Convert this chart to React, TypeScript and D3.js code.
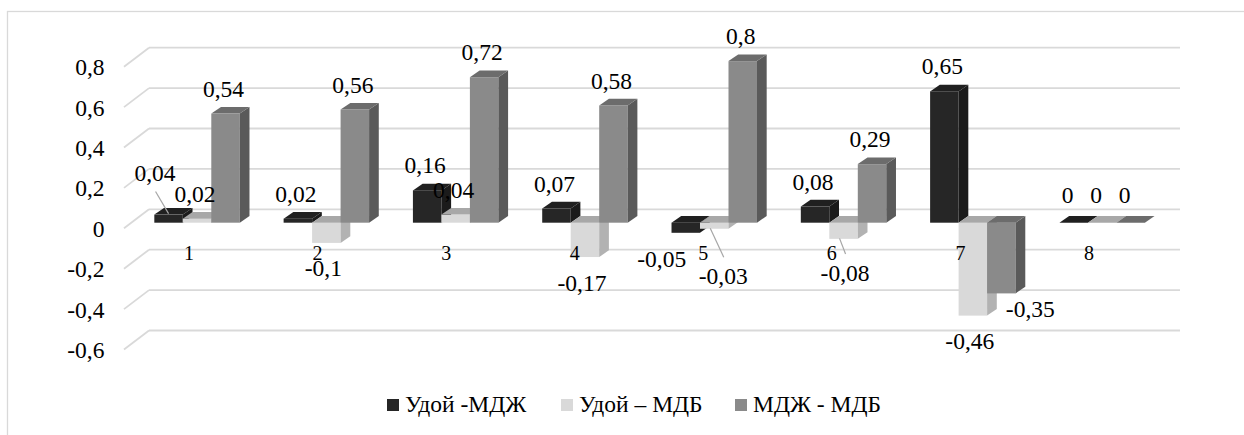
import React from 'react';
import * as d3 from 'd3';

// Categories and the three difference series
const categories = ['1', '2', '3', '4', '5', '6', '7', '8'];
const seriesNames = ['Удой -МДЖ', 'Удой – МДБ', 'МДЖ - МДБ'];
const udoyMdzh = [0.04, 0.02, 0.16, 0.07, -0.05, 0.08, 0.65, 0];
const udoyMdb = [0.02, -0.1, 0.04, -0.17, -0.03, -0.08, -0.46, 0];
const mdzhMdb = [0.54, 0.56, 0.72, 0.58, 0.8, 0.29, -0.35, 0];
const yTicks = [-0.6, -0.4, -0.2, 0, 0.2, 0.4, 0.6, 0.8];

const seriesValues = [udoyMdzh, udoyMdb, mdzhMdb];

// Shading for each series: front, side, top faces
const palette = [
  { front: '#262626', side: '#1b1b1b', top: '#202020' },
  { front: '#d9d9d9', side: '#b2b2b2', top: '#a8a8a8' },
  { front: '#8a8a8a', side: '#5a5a5a', top: '#6c6c6c' },
];

// Manually placed data labels (offsets from default placement)
const labelNudges = [
  { s: 0, i: 0, dx: -11.5, dy: -16.6, leader: true },
  { s: 1, i: 4, dx: 12, dy: 22, leader: true },
  { s: 1, i: 5, dx: 4.5, dy: 8.6, leader: true },
  { s: 0, i: 4, dx: -21, dy: 0.7, leader: false },
  { s: 2, i: 6, dx: 32, dy: -10, leader: false },
  { s: 0, i: 7, dx: -4, dy: -3, leader: false },
  { s: 1, i: 7, dx: -4, dy: -3, leader: false },
  { s: 2, i: 7, dx: -4, dy: -3, leader: false },
];

const W = 1244;
const H = 435;
const FONT = "'Liberation Serif', Tinos, 'Times New Roman', 'DejaVu Serif', serif";
const DX = 9.7; // depth offset of bar boxes
const DY = -6.7;
const WALL_SHIFT = 13.4; // back wall sits above the bars' front plane
const SIDE_DX = 25; // side-wall gridline run
const SIDE_DY = 19;

const fmt = (v: number) => String(+v.toFixed(2)).replace('.', ',');

export default function App() {
  const y = d3.scaleLinear().domain([-0.6, 0.8]).range([343.9, 61.1]);
  const x = d3
    .scaleBand<string>()
    .domain(categories)
    .range([132.4, 1166.8])
    .paddingInner(0.339)
    .paddingOuter(0.1695);
  const xs = d3
    .scaleBand<number>()
    .domain([0, 1, 2])
    .range([0, x.bandwidth()]);
  const labelX = d3.scalePoint<string>().domain(categories).range([189, 1089]);

  const wallLeft = 149;
  const wallRight = 1180;

  const bars: JSX.Element[] = [];
  const labels: JSX.Element[] = [];
  const leaders: JSX.Element[] = [];

  categories.forEach((c, i) => {
    seriesValues.forEach((vals, s) => {
      const v = vals[i];
      const xl = (x(c) as number) + (xs(s) as number);
      const w = xs.bandwidth();
      const y0 = y(0);
      const yv = y(v);
      const yT = Math.min(y0, yv);
      const yB = Math.max(y0, yv);
      const col = palette[s];
      bars.push(
        <g key={`b-${i}-${s}`}>
          {yB - yT > 0 && (
            <rect x={xl} y={yT} width={w} height={yB - yT} fill={col.front} />
          )}
          {yB - yT > 0 && (
            <polygon
              points={`${xl + w},${yT} ${xl + w + DX},${yT + DY} ${xl + w + DX},${yB + DY} ${xl + w},${yB}`}
              fill={col.side}
            />
          )}
          <polygon
            points={`${xl},${yT} ${xl + w},${yT} ${xl + w + DX},${yT + DY} ${xl + DX},${yT + DY}`}
            fill={col.top}
          />
        </g>
      );

      const cx = xl + w / 2;
      let lx = v >= 0 ? cx - 2 : cx - 3;
      let ly = v >= 0 ? yv - 17 : yv + 33.5;
      const nudge = labelNudges.find((n) => n.s === s && n.i === i);
      if (nudge) {
        lx += nudge.dx;
        ly += nudge.dy;
        if (nudge.leader) {
          const ey = v >= 0 ? ly + 10.5 : ly - 27;
          leaders.push(
            <line
              key={`l-${i}-${s}`}
              x1={cx - (v >= 0 ? 0 : 4)}
              y1={yv - (v >= 0 ? 1 : 0.5)}
              x2={lx + 0.5}
              y2={ey}
              stroke="#a6a6a6"
              strokeWidth={1.2}
            />
          );
        }
      }
      labels.push(
        <text key={`t-${i}-${s}`} x={lx} y={ly} textAnchor="middle">
          {fmt(v)}
        </text>
      );
    });
  });

  const legendItems = [
    { sq: 387, tx: 405 },
    { sq: 561, tx: 579 },
    { sq: 735, tx: 753 },
  ];

  return (
    <svg
      width={W}
      height={H}
      style={{ position: 'absolute', left: 0, top: 0, background: '#fff', fontFamily: FONT }}
    >
      <rect x={7.5} y={11.5} width={1260} height={440} fill="#fff" stroke="#d9d9d9" strokeWidth={1.3} />

      {/* back wall and side wall gridlines */}
      <g stroke="#d9d9d9" strokeWidth={1.8} fill="none">
        {yTicks.map((t) => {
          const yb = y(t) - WALL_SHIFT;
          return (
            <g key={`g-${t}`}>
              <line x1={wallLeft} x2={wallRight} y1={yb} y2={yb} />
              <line x1={wallLeft - SIDE_DX} y1={yb + SIDE_DY} x2={wallLeft} y2={yb} />
            </g>
          );
        })}
      </g>

      {/* value axis labels */}
      <g fontSize={23.5} fill="#000" textAnchor="end">
        {yTicks.map((t) => (
          <text key={`yt-${t}`} x={104.5} y={y(t) - WALL_SHIFT + 27.5}>
            {fmt(t)}
          </text>
        ))}
      </g>

      {bars}
      {leaders}

      {/* category labels */}
      <g fontSize={20} fill="#000" textAnchor="middle">
        {categories.map((c) => (
          <text key={`c-${c}`} x={labelX(c)} y={260}>
            {c}
          </text>
        ))}
      </g>

      <g fontSize={23.5} fill="#000">
        {labels}
      </g>

      {/* legend */}
      <g fontSize={23.5} fill="#000">
        {seriesNames.map((n, s) => (
          <g key={`lg-${s}`}>
            <rect x={legendItems[s].sq} y={399} width={12} height={12} fill={palette[s].front} />
            <text x={legendItems[s].tx} y={412}>
              {n}
            </text>
          </g>
        ))}
      </g>
    </svg>
  );
}
